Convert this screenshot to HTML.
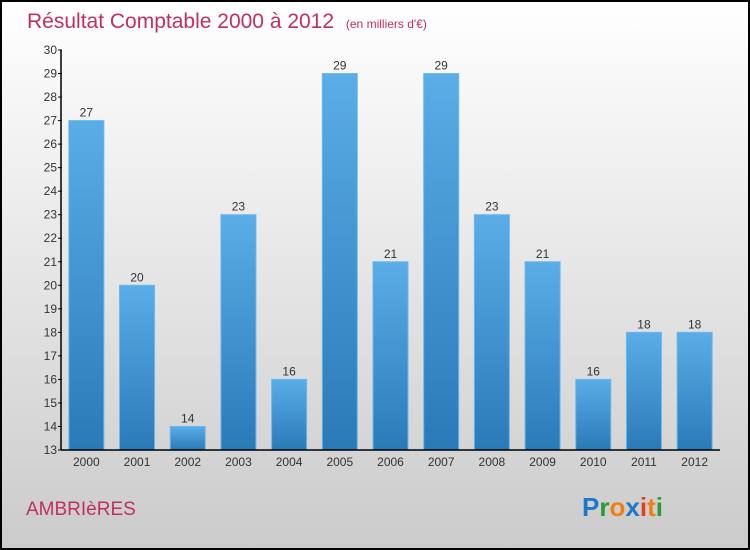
<!DOCTYPE html>
<html><head><meta charset="utf-8"><style>
body{margin:0}
#c{position:relative;width:746px;height:546px;border:2px solid #000;background:linear-gradient(#fff 0%,#f0f0f0 30%,#d8d8d8 75%,#cbcbcb 100%);overflow:hidden;font-family:"Liberation Sans",sans-serif}
svg{position:absolute;left:-2px;top:-2px}
</style></head><body>
<div id="c">
<svg id="s" width="750" height="550">
<defs><linearGradient id="g" x1="0" y1="0" x2="0" y2="1"><stop offset="0" stop-color="#5aade6"/><stop offset="1" stop-color="#2a7ab8"/></linearGradient></defs>
<text x="27" y="28" font-size="21" fill="#c0305e">Résultat Comptable 2000 à 2012 <tspan font-size="12" dx="6">(en milliers d'€)</tspan></text>
<text x="26" y="515" font-size="19" fill="#c0305e">AMBRIèRES</text>
<text x="582" y="516" font-size="26" font-weight="bold"><tspan fill="#1e78c8">P</tspan><tspan fill="#2a9a3a">r</tspan><tspan fill="#f08010">o</tspan><tspan fill="#1e78c8">x</tspan><tspan fill="#e04020">i</tspan><tspan fill="#f08010">t</tspan><tspan fill="#2a9a3a">i</tspan></text>
</svg></div>
<script>
const years=["2000","2001","2002","2003","2004","2005","2006","2007","2008","2009","2010","2011","2012"];
const values=[27,20,14,23,16,29,21,29,23,21,16,18,18];
const yTicks=[13,14,15,16,17,18,19,20,21,22,23,24,25,26,27,28,29,30];
const NS="http://www.w3.org/2000/svg",s=document.getElementById('s');
const x0=61,x1=720,yMin=13,yMax=30,yTop=50,yBot=450,band=(x1-x0)/years.length,bw=35;
const y=v=>yBot-(v-yMin)/(yMax-yMin)*(yBot-yTop);
function mk(t,a){const e=document.createElementNS(NS,t);for(const k in a)e.setAttribute(k,a[k]);s.appendChild(e);return e;}
years.forEach((yr,i)=>{
 const cx=x0+band*(i+0.5),v=values[i];
 const r=mk('rect',{x:cx-bw/2,y:y(v),width:bw,height:yBot-y(v),fill:'url(#g)',stroke:'#6ab8ee','stroke-width':1});
 
 
 const t=mk('text',{x:cx,y:y(v)-4,'text-anchor':'middle','font-size':12,fill:'#333'});t.textContent=v;
 
 
 const l=mk('text',{x:cx,y:466,'text-anchor':'middle','font-size':12,fill:'#333'});l.textContent=yr;
 
 
});
yTicks.forEach(v=>{
 const tk=mk('line',{x1:x0-3,x2:x0+1,y1:y(v),y2:y(v),stroke:'#000'});
 
 
 const t=mk('text',{x:x0-4,y:y(v)+4,'text-anchor':'end','font-size':12,fill:'#333'});t.textContent=v;
 
 
});
const ya=mk('line',{x1:x0,x2:x0,y1:yTop,y2:yBot,stroke:'#000','stroke-width':1.5});


const xa=mk('line',{x1:x0,x2:x1,y1:yBot,y2:yBot,stroke:'#000','stroke-width':1.5});


</script>
</body></html>
